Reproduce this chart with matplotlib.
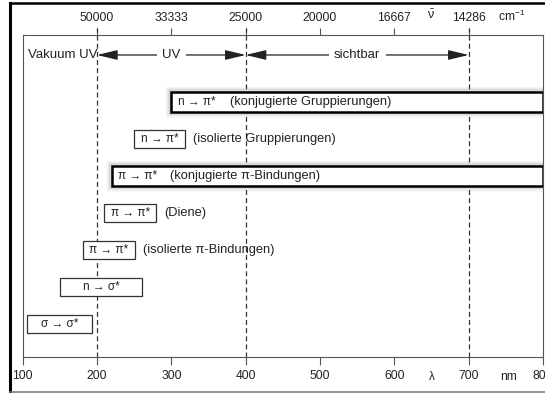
import matplotlib.pyplot as plt
from matplotlib.patches import Rectangle
from matplotlib.lines import Line2D

plt.rcParams['font.family'] = ['Liberation Sans', 'DejaVu Sans']
plt.rcParams['mathtext.fontset'] = 'custom'
plt.rcParams['mathtext.rm'] = 'Liberation Sans'
plt.rcParams['mathtext.it'] = 'Liberation Sans'

# wavelength axis (nm) and the matching wavenumbers (cm-1)
nm_ticks = [100, 200, 300, 400, 500, 600, 700, 800]
wn_pos = [200, 300, 400, 500, 600, 700]
wn_labels = ['50000', '33333', '25000', '20000', '16667', '14286']

# spectral regions
bounds = [200, 400, 700]
region_names = ['UV', 'sichtbar']
region_mid = [300, 550]

# transitions, top to bottom
trans = ['n \u2192 \u03c0*', 'n \u2192 \u03c0*', '\u03c0 \u2192 \u03c0*', '\u03c0 \u2192 \u03c0*',
         '\u03c0 \u2192 \u03c0*', 'n \u2192 \u03c3*', '\u03c3 \u2192 \u03c3*']
desc = ['(konjugierte Gruppierungen)', '(isolierte Gruppierungen)',
        '(konjugierte \u03c0-Bindungen)', '(Diene)', '(isolierte \u03c0-Bindungen)', '', '']
start = [300, 250, 220, 210, 181, 150, 106]
end = [800, 318, 800, 279, 251, 261, 193]
conj = [True, False, True, False, False, False, False]

W, H = 545, 393
fig = plt.figure(figsize=(W / 100, H / 100), dpi=100)
ax = fig.add_axes([22.7 / W, (H - 357.3) / H, (543 - 22.7) / W, (357.3 - 35) / H])
ax.set_xlim(100, 800)
ax.set_ylim(6.9, -1.81)
txt = '#222222'
grey = '#555555'

for s in ax.spines.values():
    s.set_color(grey)
    s.set_linewidth(0.8)
ax.set_yticks([])
ax.set_xticks(nm_ticks)
ax.tick_params(axis='x', direction='out', length=5.8, width=0.8, color=grey,
               labelsize=8.7, labelcolor=txt, pad=3)

sec = ax.secondary_xaxis('top')
sec.set_xticks(wn_pos, labels=wn_labels)
sec.tick_params(direction='out', length=5, width=0.8, color=grey,
                labelsize=8.7, labelcolor=txt, pad=3)
sec.spines['top'].set_visible(False)

# unit labels
bx = ('data', 'axes fraction')
ax.annotate('\u03bb', (651, -0.06), xycoords=bx, ha='center', va='center', fontsize=8.5, color=txt)
ax.annotate('nm', (753, -0.06), xycoords=bx, ha='center', va='center', fontsize=8.7, color=txt)
ax.annotate(r'$\bar{\nu}$', (649, 1.062), xycoords=bx, ha='center', va='center', fontsize=9, color=txt)
ax.annotate(r'cm$^{-1}$', (758, 1.057), xycoords=bx, ha='center', va='center', fontsize=8.7, color=txt)

# region boundaries
for b in bounds:
    ax.axvline(b, ymin=0, ymax=1.022, color='#333333', lw=0.9, ls=(0, (4, 2.5)), clip_on=False)

# region arrows
yv = -1.27
ax.text(200, yv, 'Vakuum UV', ha='right', va='center', fontsize=9.5, color=txt)
aprops = dict(arrowstyle='-|>,head_length=1.25,head_width=0.3', color='#222222',
              lw=0.9, shrinkA=0, shrinkB=0, mutation_scale=10)
for (lo, hi), name, mid in zip(zip(bounds[:-1], bounds[1:]), region_names, region_mid):
    ax.annotate('', xy=(lo, yv), xytext=(mid, yv), arrowprops=aprops)
    ax.annotate('', xy=(hi, yv), xytext=(mid, yv), arrowprops=aprops)
    ax.text(mid, yv, name, ha='center', va='center', fontsize=9.5, color=txt, zorder=5,
            bbox=dict(boxstyle='square,pad=0.4', fc='white', ec='none'))

# transition boxes
for i, (t, d, x0, x1, c) in enumerate(zip(trans, desc, start, end, conj)):
    if c:
        h = 0.54
        for lw, a in [(8, 0.07), (6, 0.1), (4, 0.18)]:
            ax.add_patch(Rectangle((x0, i - h / 2), x1 - x0, h, fill=False,
                                   ec='#888888', lw=lw, alpha=a, zorder=2))
        ax.add_patch(Rectangle((x0, i - h / 2), x1 - x0, h, fc='white',
                               ec='black', lw=1.8, zorder=3))
        ax.annotate(t, (x0, i), xytext=(4.5, 0), textcoords='offset points',
                    ha='left', va='center', fontsize=8.5, color=txt, zorder=4)
        ax.annotate(d, (x0, i), xytext=(42, 0), textcoords='offset points',
                    ha='left', va='center', fontsize=9.3, color=txt, zorder=4)
    else:
        h = 0.49
        ax.add_patch(Rectangle((x0, i - h / 2), x1 - x0, h, fc='white',
                               ec='#333333', lw=0.9, zorder=3))
        ax.text((x0 + x1) / 2, i, t, ha='center', va='center', fontsize=8.5, color=txt, zorder=4)
        if d:
            ax.annotate(d, (x1, i), xytext=(6, 0), textcoords='offset points',
                        ha='left', va='center', fontsize=9.3, color=txt, zorder=4)

# outer frame
fig.add_artist(Line2D([9.5 / W, 9.5 / W], [0, 1 - 2.5 / H], color='black', lw=2.2))
fig.add_artist(Line2D([9.5 / W, 1], [1 - 3 / H, 1 - 3 / H], color='black', lw=1.8))
fig.add_artist(Line2D([9.5 / W, 1], [1.3 / H, 1.3 / H], color='#777777', lw=1.1))

fig.savefig('out.png', dpi=100, facecolor='white')
